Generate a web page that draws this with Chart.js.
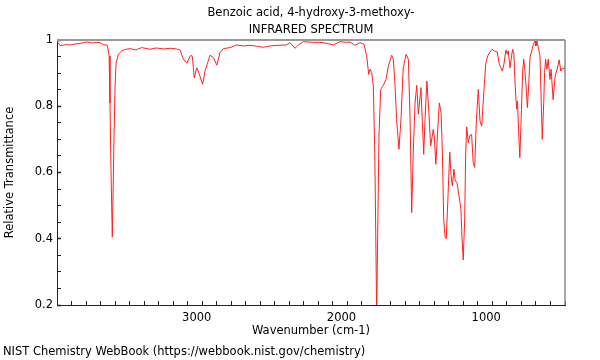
<!DOCTYPE html>
<html>
<head>
<meta charset="utf-8">
<script src="https://cdn.jsdelivr.net/npm/chart.js@4/dist/chart.umd.min.js"></script>
<style>
  html, body { margin: 0; padding: 0; background: #fff; }
  #wrap { width: 600px; height: 360px; }
</style>
</head>
<body>
<div id="wrap"><canvas id="c" width="600" height="360"></canvas></div>
<script>
// ---- data ----
const titleLines = ['Benzoic acid, 4-hydroxy-3-methoxy-', 'INFRARED SPECTRUM'];
const xTitle = 'Wavenumber (cm-1)';
const yTitle = 'Relative Transmittance';
const footer = 'NIST Chemistry WebBook (https://webbook.nist.gov/chemistry)';

const xTickLabels = [1000, 2000, 3000];
const yTickLabels = [0.2, 0.4, 0.6, 0.8, 1];

const wavenumber = [
  3965, 3944, 3905, 3874, 3840, 3805, 3780, 3757, 3720, 3690,
  3668, 3646, 3626, 3617, 3605, 3599, 3592, 3583, 3571, 3564,
  3557, 3541, 3518, 3490, 3461, 3420, 3380, 3322, 3280, 3230,
  3180, 3140, 3115, 3092, 3069, 3041, 3030, 3017, 3000, 2989,
  2959, 2943, 2908, 2885, 2861, 2839, 2816, 2770, 2724, 2678,
  2632, 2580, 2540, 2494, 2440, 2379, 2355, 2321, 2298, 2264,
  2200, 2149, 2100, 2056, 2010, 1970, 1941, 1907, 1872, 1844,
  1826, 1812, 1803, 1791, 1780, 1770, 1763, 1757, 1750, 1741,
  1729, 1711, 1693, 1677, 1653, 1642, 1631, 1619, 1603, 1589,
  1574, 1554, 1538, 1526, 1515, 1504, 1492, 1480, 1469, 1451,
  1442, 1432, 1423, 1410, 1396, 1384, 1366, 1359, 1348, 1335,
  1324, 1312, 1303, 1294, 1285, 1276, 1266, 1252, 1243, 1234,
  1223, 1214, 1202, 1188, 1175, 1168, 1159, 1149, 1142, 1135,
  1124, 1113, 1101, 1090, 1080, 1068, 1055, 1043, 1031, 1017,
  1004, 990, 974, 958, 940, 924, 910, 898, 889, 878,
  864, 855, 848, 836, 828, 818, 809, 800, 790, 784,
  777, 768, 759, 749, 741, 734, 725, 716, 707, 698,
  686, 675, 663, 657, 650, 638, 629, 620, 613, 603,
  597, 590, 581, 572, 560, 552, 538, 524, 510, 496,
  485, 473, 464, 456
];

const transmittance = [
  0.997, 0.983, 0.986, 0.985, 0.988, 0.990, 0.992, 0.994, 0.991, 0.993,
  0.992, 0.986, 0.985, 0.984, 0.952, 0.810, 0.610, 0.405, 0.710, 0.860,
  0.930, 0.957, 0.967, 0.972, 0.974, 0.970, 0.977, 0.972, 0.976, 0.973,
  0.975, 0.973, 0.970, 0.942, 0.930, 0.954, 0.950, 0.886, 0.916, 0.906,
  0.866, 0.906, 0.954, 0.947, 0.924, 0.962, 0.974, 0.977, 0.985, 0.982,
  0.984, 0.981, 0.978, 0.982, 0.984, 0.985, 0.992, 0.975, 0.985, 0.995,
  0.993, 0.993, 0.990, 0.985, 0.995, 0.993, 0.994, 0.984, 0.992, 0.987,
  0.952, 0.896, 0.912, 0.901, 0.861, 0.660, 0.408, 0.170, 0.408, 0.710,
  0.851, 0.863, 0.881, 0.920, 0.954, 0.942, 0.871, 0.760, 0.670, 0.760,
  0.912, 0.957, 0.942, 0.760, 0.479, 0.660, 0.810, 0.863, 0.776, 0.856,
  0.760, 0.655, 0.760, 0.876, 0.780, 0.680, 0.730, 0.710, 0.625, 0.730,
  0.810, 0.780, 0.660, 0.459, 0.408, 0.400, 0.509, 0.662, 0.590, 0.560,
  0.610, 0.574, 0.570, 0.529, 0.489, 0.408, 0.336, 0.459, 0.660, 0.738,
  0.690, 0.712, 0.715, 0.630, 0.615, 0.760, 0.851, 0.755, 0.740, 0.841,
  0.927, 0.952, 0.964, 0.972, 0.966, 0.964, 0.927, 0.916, 0.906, 0.927,
  0.970, 0.957, 0.967, 0.916, 0.942, 0.972, 0.957, 0.861, 0.791, 0.816,
  0.730, 0.645, 0.760, 0.901, 0.942, 0.912, 0.861, 0.796, 0.861, 0.947,
  0.967, 0.987, 0.997, 0.982, 0.997, 0.972, 0.952, 0.810, 0.700, 0.810,
  0.901, 0.942, 0.912, 0.942, 0.881, 0.912, 0.820, 0.891, 0.912, 0.940,
  0.906, 0.916, 0.912, 0.920
];

const xRange = [456, 3965];
const yRange = [0.2, 1.0];

// ---- chart ----
const FONT = '"DejaVu Sans", sans-serif';
const FONT_SIZE = 11.5;
const points = wavenumber.map((w, i) => ({ x: w, y: transmittance[i] }));

const isMajorX = v => xTickLabels.some(t => Math.abs(t - v) < 1e-6);
const isMajorY = v => yTickLabels.some(t => Math.abs(t - v) < 1e-6);

const decor = {
  id: 'decor',
  afterDraw(chart) {
    const { ctx, chartArea: a } = chart;
    const xs = chart.scales.x;
    ctx.save();
    // top & right frame
    ctx.strokeStyle = '#999999';
    ctx.lineWidth = 2;
    ctx.beginPath();
    ctx.moveTo(a.left, a.top);
    ctx.lineTo(a.right, a.top);
    ctx.stroke();
    ctx.strokeStyle = '#8a8a8a';
    ctx.lineWidth = 1.5;
    ctx.beginPath();
    ctx.moveTo(a.right, a.top);
    ctx.lineTo(a.right, a.bottom);
    ctx.stroke();
    // texts
    ctx.fillStyle = '#000';
    ctx.font = FONT_SIZE + 'px ' + FONT;
    ctx.textAlign = 'center';
    ctx.textBaseline = 'middle';
    const cx = (a.left + a.right) / 2;
    ctx.fillText(titleLines[0], cx, 13);
    ctx.fillText(titleLines[1], cx, 30);
    // x tick labels placed through the x scale
    xTickLabels.forEach(v => {
      ctx.fillText(String(v), xs.getPixelForValue(v), a.bottom + 13);
    });
    ctx.textAlign = 'left';
    ctx.fillText(footer, 3, 352);
    ctx.restore();
  }
};

new Chart(document.getElementById('c'), {
  type: 'line',
  data: {
    datasets: [{
      data: points,
      borderColor: '#ff2020',
      borderWidth: 1,
      pointRadius: 0,
      tension: 0,
      fill: false
    }]
  },
  options: {
    responsive: false,
    animation: false,
    devicePixelRatio: 1,
    layout: { padding: { top: 40, right: 35, bottom: 18, left: 0 } },
    plugins: { legend: { display: false }, tooltip: { enabled: false }, title: { display: false } },
    scales: {
      x: {
        type: 'linear',
        reverse: true,
        min: xRange[0],
        max: xRange[1],
        afterFit(s) { s.height = 37; },
        border: { display: true, color: '#222', width: 1 },
        grid: {
          drawOnChartArea: false,
          drawTicks: true,
          tickLength: -4,
          tickColor: '#222',
          tickWidth: c => (c.tick && isMajorX(c.tick.value)) ? 1.5 : 1
        },
        ticks: {
          stepSize: 100,
          autoSkip: false,
          includeBounds: false,
          maxRotation: 0,
          padding: 10,
          color: '#000',
          font: { family: FONT, size: FONT_SIZE },
          callback: () => ''
        },
        title: {
          display: true,
          text: xTitle,
          color: '#000',
          font: { family: FONT, size: FONT_SIZE },
          padding: { top: 0, bottom: 4 }
        }
      },
      y: {
        type: 'linear',
        min: yRange[0],
        max: yRange[1],
        afterFit(s) { s.width = 57; },
        border: { display: true, color: '#222', width: 1 },
        grid: {
          drawOnChartArea: false,
          drawTicks: true,
          tickLength: -4,
          tickColor: '#222',
          tickWidth: c => (c.tick && isMajorY(Math.round(c.tick.value * 100) / 100)) ? 1.5 : 1
        },
        ticks: {
          stepSize: 0.05,
          autoSkip: false,
          includeBounds: false,
          padding: 8,
          color: '#000',
          font: { family: FONT, size: FONT_SIZE },
          callback: v => {
            const r = Math.round(v * 100) / 100;
            return isMajorY(r) ? String(r) : '';
          }
        },
        title: {
          display: true,
          text: yTitle,
          color: '#000',
          font: { family: FONT, size: FONT_SIZE },
          padding: { top: 3, bottom: 0 }
        }
      }
    }
  },
  plugins: [decor]
});
</script>
</body>
</html>
